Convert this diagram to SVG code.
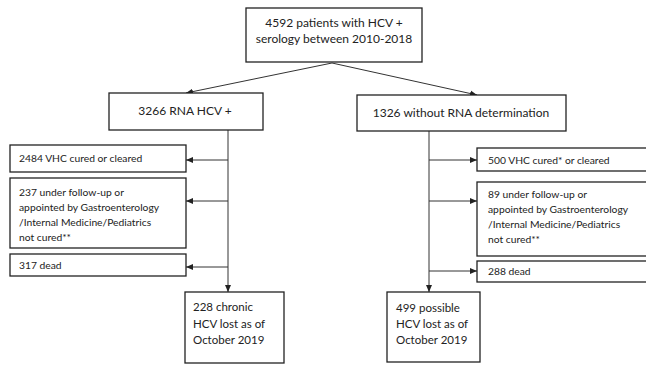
<svg xmlns="http://www.w3.org/2000/svg" width="646" height="365" viewBox="0 0 646 365">
<style>
.box{fill:#fff;stroke:#222;stroke-width:1.3}
.t{font-family:Lato,"Liberation Sans",Arial,sans-serif;font-size:10.3px;fill:#222}
.tl{font-family:Lato,"Liberation Sans",Arial,sans-serif;font-size:12px;fill:#222}
.tb{font-family:Lato,"Liberation Sans",Arial,sans-serif;font-size:11.5px;fill:#222}
.c{fill:none;stroke:#333;stroke-width:1}
</style>
<defs>
<marker id="ah" markerWidth="8" markerHeight="8" refX="7" refY="4" orient="auto" markerUnits="userSpaceOnUse">
<path d="M0,1 L7,4 L0,7 Z" fill="#222"/>
</marker>
</defs>
<rect width="646" height="365" fill="#fff"/>
<g id="connectors">
<line class="c" x1="332" y1="63" x2="186" y2="93" marker-end="url(#ah)"/>
<line class="c" x1="332" y1="63" x2="477" y2="95" marker-end="url(#ah)"/>
<line class="c" x1="228" y1="130" x2="228" y2="292" marker-end="url(#ah)"/>
<line class="c" x1="228" y1="160" x2="186" y2="160" marker-end="url(#ah)"/>
<line class="c" x1="228" y1="201" x2="186" y2="201" marker-end="url(#ah)"/>
<line class="c" x1="228" y1="267" x2="186" y2="267" marker-end="url(#ah)"/>
<line class="c" x1="429" y1="131" x2="429" y2="292" marker-end="url(#ah)"/>
<line class="c" x1="429" y1="160" x2="477" y2="160" marker-end="url(#ah)"/>
<line class="c" x1="429" y1="201" x2="477" y2="201" marker-end="url(#ah)"/>
<line class="c" x1="429" y1="271" x2="477" y2="271" marker-end="url(#ah)"/>
</g>
<g id="n_top">
<rect class="box" x="246" y="8" width="176" height="54"/>
<text class="tl" x="334" y="27" text-anchor="middle">4592 patients with HCV +</text>
<text class="tl" x="334" y="43" text-anchor="middle">serology between 2010-2018</text>
</g>
<g id="n_rna">
<rect class="box" x="109" y="93" width="154" height="37"/>
<text class="tl" x="185" y="115" text-anchor="middle">3266 RNA HCV +</text>
</g>
<g id="n_norna">
<rect class="box" x="357" y="95" width="209" height="36"/>
<text class="tl" x="461" y="117" text-anchor="middle">1326 without RNA determination</text>
</g>
<g id="n_l1">
<rect class="box" x="10" y="145" width="176" height="27"/>
<text class="t" x="19" y="162">2484 VHC cured or cleared</text>
</g>
<g id="n_l2">
<rect class="box" x="10" y="178" width="176" height="70"/>
<text class="t" x="19" y="196">237 under follow-up or</text>
<text class="t" x="19" y="211">appointed by Gastroenterology</text>
<text class="t" x="19" y="226">/Internal Medicine/Pediatrics</text>
<text class="t" x="19" y="241">not cured**</text>
</g>
<g id="n_l3">
<rect class="box" x="10" y="254" width="176" height="22"/>
<text class="t" x="19" y="269">317 dead</text>
</g>
<g id="n_l4">
<rect class="box" x="185" y="292" width="99" height="71"/>
<text class="tb" x="193" y="311">228 chronic</text>
<text class="tb" x="193" y="328">HCV lost as of</text>
<text class="tb" x="193" y="344">October 2019</text>
</g>
<g id="n_r1">
<rect class="box" x="477" y="148" width="175" height="23"/>
<text class="t" x="488" y="164">500 VHC cured* or cleared</text>
</g>
<g id="n_r2">
<rect class="box" x="477" y="182" width="175" height="74"/>
<text class="t" x="488" y="198">89 under follow-up or</text>
<text class="t" x="488" y="213">appointed by Gastroenterology</text>
<text class="t" x="488" y="228">/Internal Medicine/Pediatrics</text>
<text class="t" x="488" y="243">not cured**</text>
</g>
<g id="n_r3">
<rect class="box" x="477" y="261" width="175" height="21"/>
<text class="t" x="488" y="275">288 dead</text>
</g>
<g id="n_r4">
<rect class="box" x="387" y="292" width="93" height="70"/>
<text class="tb" x="396" y="312">499 possible</text>
<text class="tb" x="396" y="328">HCV lost as of</text>
<text class="tb" x="396" y="344">October 2019</text>
</g>
</svg>
